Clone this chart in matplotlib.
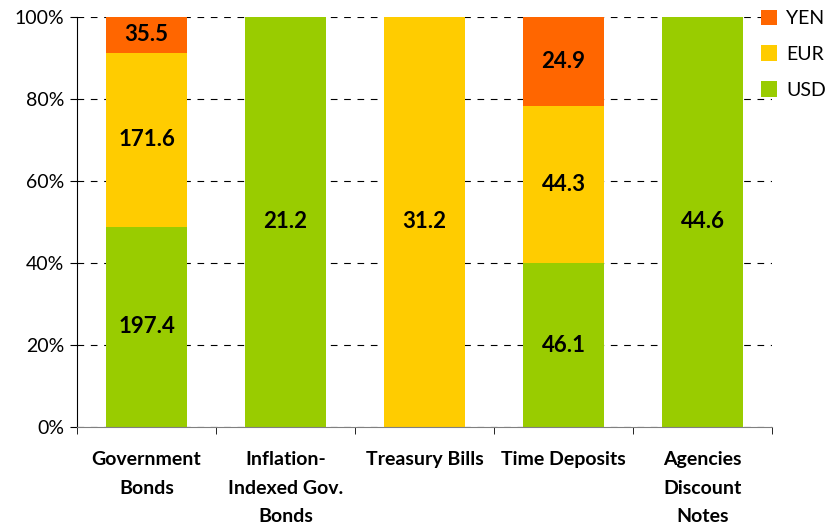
import matplotlib.pyplot as plt
import numpy as np

plt.rcParams['font.family'] = ['Lato', 'DejaVu Sans']

categories = ["Government\nBonds", "Inflation-\nIndexed Gov.\nBonds", "Treasury Bills",
              "Time Deposits", "Agencies\nDiscount\nNotes"]
usd = [197.4, 21.2, 0, 46.1, 44.6]
eur = [171.6, 0, 31.2, 44.3, 0]
yen = [35.5, 0, 0, 24.9, 0]
pct_labels = ["0%", "20%", "40%", "60%", "80%", "100%"]

colors = {"USD": "#99CC00", "EUR": "#FFCC00", "YEN": "#FF6600"}

usd = np.array(usd)
eur = np.array(eur)
yen = np.array(yen)
total = usd + eur + yen
p_usd = usd / total * 100
p_eur = eur / total * 100
p_yen = yen / total * 100

fig = plt.figure(figsize=(8.25, 5.29), dpi=100)
ax = fig.add_axes([0.0933, 0.1928, 0.8425, 0.7751])

x = np.arange(len(categories))
w = 0.58
b1 = ax.bar(x, p_usd, w, color=colors["USD"], label="USD", zorder=2)
b2 = ax.bar(x, p_eur, w, bottom=p_usd, color=colors["EUR"], label="EUR", zorder=2)
b3 = ax.bar(x, p_yen, w, bottom=p_usd + p_eur, color=colors["YEN"], label="YEN", zorder=2)

# value labels in the middle of each segment
for vals, pcts, bottoms in [(usd, p_usd, np.zeros(len(x))), (eur, p_eur, p_usd),
                            (yen, p_yen, p_usd + p_eur)]:
    for i in range(len(x)):
        if vals[i] > 0:
            ax.text(x[i], bottoms[i] + pcts[i] / 2, f"{vals[i]:.1f}", ha="center", va="center",
                    fontsize=16, fontweight="bold", color="black", zorder=3)

ax.set_xlim(-0.5, len(x) - 0.5)
ax.set_ylim(0, 100)
ax.set_yticks(np.arange(0, 101, 20))
ax.set_yticklabels(pct_labels, fontsize=14)
ax.yaxis.grid(True, linestyle=(0, (6, 6)), color="black", linewidth=0.8, zorder=0)
ax.set_axisbelow(True)

ax.set_xticks(x)
ax.set_xticklabels(categories, fontsize=14, fontweight="bold", va="top", linespacing=1.85)
ax.tick_params(axis="x", which="major", length=0, pad=17)
ax.set_xticks(np.arange(-0.5, len(x), 1), minor=True)
ax.tick_params(axis="x", which="minor", length=5, direction="out")
ax.tick_params(axis="y", length=5, direction="out", pad=4)

for s in ["top", "right"]:
    ax.spines[s].set_visible(False)
ax.spines["left"].set_color("black")
ax.spines["bottom"].set_color("#808080")

leg = fig.legend(handles=[b3, b2, b1], labels=["YEN", "EUR", "USD"], loc="upper left",
                 bbox_to_anchor=(0.922, 0.982), frameon=False, fontsize=14,
                 borderpad=0, borderaxespad=0,
                 handlelength=0.85, handleheight=0.85, labelspacing=0.95, handletextpad=0.45)

fig.savefig("out.png", dpi=100)
